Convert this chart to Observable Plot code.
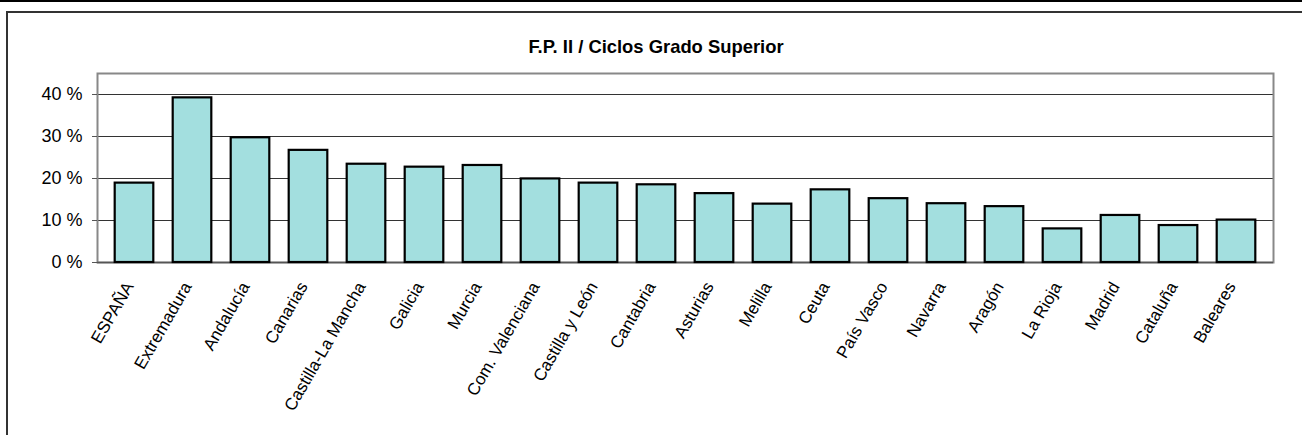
<!DOCTYPE html>
<html>
<head>
<meta charset="utf-8">
<script src="https://cdn.jsdelivr.net/npm/d3@7"></script>
<script src="https://cdn.jsdelivr.net/npm/@observablehq/plot@0.6"></script>
<style>
  html, body { margin: 0; padding: 0; background: #fff; }
  #wrap { position: relative; width: 1302px; height: 435px; overflow: hidden; font-family: "Liberation Sans", Arial, sans-serif; }
  #topline { position: absolute; left: 0; top: 0; width: 1302px; height: 2px; background: #000; }
  #boxtop { position: absolute; left: 6px; top: 11px; width: 1296px; height: 2px; background: #333; }
  #boxleft { position: absolute; left: 6px; top: 11px; width: 2px; height: 424px; background: #333; }
  #title { position: absolute; left: 5px; width: 1302px; top: 36px; text-align: center; font-weight: bold; font-size: 18.4px; color: #000; }
  #chart { position: absolute; left: 0; top: 0; }
  #chart svg text { font-family: "Liberation Sans", Arial, sans-serif; fill: #000; }
</style>
</head>
<body>
<div id="wrap">
  <div id="topline"></div>
  <div id="boxtop"></div>
  <div id="boxleft"></div>
  <div id="title">F.P. II / Ciclos Grado Superior</div>
  <div id="chart"></div>
</div>
<script>
const regions = ["ESPAÑA", "Extremadura", "Andalucía", "Canarias", "Castilla-La Mancha", "Galicia", "Murcia", "Com. Valenciana", "Castilla y León", "Cantabria", "Asturias", "Melilla", "Ceuta", "País Vasco", "Navarra", "Aragón", "La Rioja", "Madrid", "Cataluña", "Baleares"];
const values = [18.9, 39.2, 29.7, 26.7, 23.4, 22.7, 23.1, 19.9, 18.9, 18.5, 16.4, 13.9, 17.3, 15.2, 14.0, 13.3, 8.0, 11.2, 8.8, 10.1];
const yTicks = [0, 10, 20, 30, 40];
const gridTicks = [10, 20, 30, 40];

const data = regions.map((r, i) => ({region: r, value: values[i]}));

const chart = Plot.plot({
  width: 1302,
  height: 435,
  marginLeft: 97,
  marginRight: 29,
  marginTop: 73,
  marginBottom: 173,
  style: {fontFamily: "Liberation Sans, Arial, sans-serif", fontSize: "18px", color: "#000", background: "transparent"},
  x: {domain: regions, padding: 0, label: null},
  y: {domain: [0, 45], label: null},
  marks: [
    Plot.ruleY(gridTicks, {stroke: "#333", strokeWidth: 1.2}),
    Plot.frame({stroke: "#888", strokeWidth: 2}),
    Plot.ruleY([0], {stroke: "#555", strokeWidth: 1.5}),
    Plot.barY(data, {x: "region", y: "value", insetLeft: 9.7, insetRight: 9.7, fill: "#a3dfdf", stroke: "#000", strokeWidth: 2.2}),
    Plot.axisY({ticks: yTicks, tickFormat: d => d + " %", tickSize: 5, tickPadding: 10, stroke: "#555", label: null, fontSize: 18}),
    Plot.axisX({tickRotate: -60, tickSize: 0, tickPadding: 21, dx: -5, label: null, fontSize: 17})
  ]
});
document.getElementById("chart").appendChild(chart);
</script>
</body>
</html>
